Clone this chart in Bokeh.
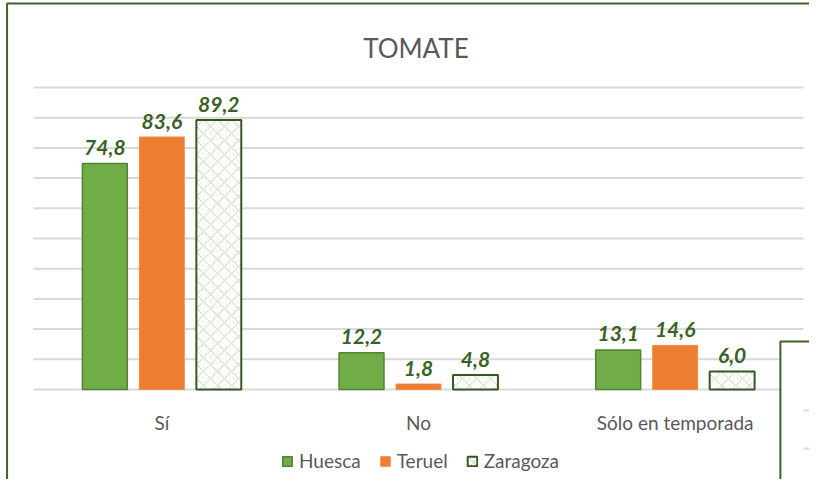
import numpy as np
from bokeh.plotting import figure
from bokeh.models import Range1d, Legend, LegendItem
from bokeh.core.properties import value
from bokeh.embed import file_html
from bokeh.resources import INLINE

# ---------------- data ----------------
title_text = "TOMATE"
categories = ["Sí", "No", "Sólo en temporada"]
series_names = ["Huesca", "Teruel", "Zaragoza"]
huesca = [74.8, 12.2, 13.1]
teruel = [83.6, 1.8, 14.6]
zaragoza = [89.2, 4.8, 6.0]
y_ticks = [0, 10, 20, 30, 40, 50, 60, 70, 80, 90, 100]

# chart border and fragment of the neighbouring chart (decoration)
chart_border = dict(left=[-0.103], right=[3.5], top=[127.8], bottom=[-45])
neighbour_box = dict(left=[2.91], right=[3.5], top=[15.9], bottom=[-45])
neighbour_grid = [-6.95, -19.5]

# ---------------- styles ----------------
FONT_NAME = "Lato"
FONT = value(FONT_NAME)
GRAY = "#595959"
GRID = "#d9d9d9"
FRAME = "#3f6127"
LABEL = "#3b6127"

p = figure(width=809, height=479,
           x_range=Range1d(-0.1286, 3.0234), y_range=Range1d(-29.8, 128.8),
           output_backend="svg", toolbar_location=None,
           x_axis_location=None, y_axis_location=None,
           min_border=0, min_border_left=0, min_border_right=0,
           min_border_top=0, min_border_bottom=0)
p.grid.visible = False
p.background_fill_color = "white"
p.border_fill_color = "white"
p.outline_line_color = None

n = len(categories)
xc = np.arange(n) + 0.5

# chart border
p.quad(fill_color=None, line_color=FRAME, line_width=2, **chart_border)

# gridlines
p.segment(x0=0, x1=n, y0=y_ticks, y1=y_ticks, line_color=GRID, line_width=2)

offsets = [-0.222, 0.0, 0.222]
bar_w = 0.175
series = [huesca, teruel, zaragoza]
fills = ["#70ad47", "#ed7d31", "white"]
lines = ["#548235", "#f08a45", "#375623"]
lwidths = [1.5, 1, 2]

renderers = []
for vals, off, fc, lc, lw, name in zip(series, offsets, fills, lines, lwidths, series_names):
    kw = {}
    if name == "Zaragoza":
        kw = dict(hatch_pattern="diagonal_cross", hatch_color="#c5e0b4",
                  hatch_scale=14, hatch_weight=1, hatch_alpha=1.0)
    r = p.vbar(x=xc + off, top=vals, bottom=0, width=bar_w,
               fill_color=fc, line_color=lc, line_width=lw, **kw)
    renderers.append(r)
    p.text(x=xc + off, y=vals, text=[f"{v:.1f}".replace(".", ",") for v in vals],
           text_align="center", text_baseline="alphabetic", y_offset=-16,
           text_font=FONT, text_font_style="bold italic", text_font_size="21px",
           text_color=LABEL)

# category labels
p.text(x=xc, y=[0] * n, text=categories, text_align="center",
       text_baseline="alphabetic", y_offset=33, text_font=FONT,
       text_font_size="19px", text_color=GRAY)

# title
p.text(x=[n / 2 - 0.01], y=[max(y_ticks)], text=[title_text], text_align="center",
       text_baseline="alphabetic", y_offset=-39, text_font=FONT,
       text_font_size="26px", text_color=GRAY)

# legend
legend = Legend(items=[LegendItem(label=nm, renderers=[r]) for nm, r in zip(series_names, renderers)],
                orientation="horizontal", location=(281, 7), padding=0, margin=0,
                spacing=18, label_standoff=6, glyph_width=12, glyph_height=12,
                border_line_color=None, background_fill_alpha=0,
                label_text_font=FONT_NAME, label_text_font_size="19px",
                label_text_color=GRAY)
p.add_layout(legend)

# neighbouring chart fragment
p.quad(fill_color="white", line_color=FRAME, line_width=2, **neighbour_box)
p.segment(x0=3.0, x1=3.5, y0=neighbour_grid, y1=neighbour_grid,
          line_color=GRID, line_width=2)

open("out.html", "w").write(file_html(p, INLINE))
